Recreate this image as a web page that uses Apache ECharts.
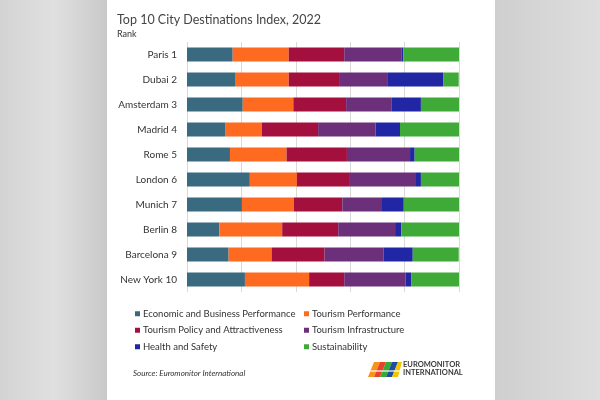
<!DOCTYPE html>
<html>
<head>
<meta charset="utf-8">
<script src="https://cdn.jsdelivr.net/npm/echarts@6/dist/echarts.min.js"></script>
<style>html,body{margin:0;padding:0;background:#d5d5d5;}#c{width:600px;height:400px;}</style>
</head>
<body>
<div id="c"></div>
<script>
var cities = ["Paris 1","Dubai 2","Amsterdam 3","Madrid 4","Rome 5","London 6","Munich 7","Berlin 8","Barcelona 9","New York 10"];
var economic = [16.8, 17.9, 20.5, 14.2, 15.8, 23.1, 20.2, 11.9, 15.3, 21.3];
var tourismPerf = [20.6, 19.5, 18.6, 13.3, 20.8, 17.3, 19.1, 23.1, 15.8, 23.6];
var policy = [20.4, 18.5, 19.4, 20.7, 22.2, 19.5, 17.8, 20.6, 19.5, 12.9];
var infra = [21.0, 17.7, 16.8, 21.1, 23.2, 24.3, 14.6, 20.9, 21.6, 22.5];
var health = [0.7, 20.7, 10.7, 9.0, 1.7, 1.8, 8.0, 2.3, 10.8, 2.1];
var sustain = [20.5, 5.6, 14.0, 21.7, 16.3, 14.0, 20.4, 21.2, 16.9, 17.7];
var seriesNames = ["Economic and Business Performance","Tourism Performance","Tourism Policy and Attractiveness","Tourism Infrastructure","Health and Safety","Sustainability"];
var seriesValues = [economic, tourismPerf, policy, infra, health, sustain];
var colors = ["#3a6a80","#ff6a21","#a3103d","#6c2f7a","#2026a4","#40aa38"];

var FONT = "Lato";
var chart = echarts.init(document.getElementById('c'), null, {renderer:'canvas'});
var series = seriesNames.map(function(n,i){
  return {name:n, type:'bar', stack:'all', data:seriesValues[i], barWidth:14,
    itemStyle:{color:colors[i]}, emphasis:{disabled:true}};
});
chart.setOption({
  animation:false,
  backgroundColor:'#d5d5d5',
  color:colors,
  graphic:[
    {type:'rect', z:-10, shape:{x:0,y:0,width:107,height:400}, style:{fill:new echarts.graphic.LinearGradient(0,0,1,0,[{offset:0,color:'#d3d3d3'},{offset:0.5,color:'#e0e0e0'},{offset:1,color:'#c9c9c9'}])}},
    {type:'rect', z:-10, shape:{x:495,y:0,width:105,height:400}, style:{fill:new echarts.graphic.LinearGradient(0,0,1,0,[{offset:0,color:'#cfcfcf'},{offset:1,color:'#dedede'}])}},
    {type:'rect', z:-5, shape:{x:107,y:0,width:388,height:400}, style:{fill:'#ffffff'}},
    {type:'text', left:117, top:13, style:{text:'Top 10 City Destinations Index, 2022', font:'12.5px '+FONT, fill:'#454545'}},
    {type:'text', left:117, top:30, style:{text:'Rank', font:'9px '+FONT, fill:'#333333'}},
    {type:'text', left:133, top:369, style:{text:'Source: Euromonitor International', font:'italic 8px '+FONT, fill:'#333333'}},
    {type:'text', left:403, top:361, style:{text:'EUROMONITOR\nINTERNATIONAL', font:'bold 7.5px '+FONT, fill:'#3a3a3a', lineHeight:7.5}},
    {type:'group', left:368, top:362, children:[
      {type:'polygon', shape:{points:[[0,15],[6,0],[12,0],[6,15]]}, style:{fill:'#f7941d'}},
      {type:'polygon', shape:{points:[[6,15],[12,0],[18,0],[12,15]]}, style:{fill:'#e8412c'}},
      {type:'polygon', shape:{points:[[12,15],[18,0],[24,0],[18,15]]}, style:{fill:'#39a935'}},
      {type:'polygon', shape:{points:[[18,15],[24,0],[30,0],[24,15]]}, style:{fill:'#1f4e9e'}},
      {type:'polygon', shape:{points:[[24,15],[30,0],[34,0],[30,15]]}, style:{fill:'#f5c400'}},
      {type:'polygon', shape:{points:[[3,8],[33,8],[32,10],[2,10]]}, style:{fill:'#ffffff', opacity:0.6}}
    ]}
  ],
  legend:[
    {orient:'vertical', left:130, top:303, itemWidth:5, itemHeight:5, itemGap:5, icon:'rect',
      data:[seriesNames[0], seriesNames[2], seriesNames[4]],
      textStyle:{fontFamily:FONT, fontSize:9.5, color:'#333333', lineHeight:11.5, padding:[0,0,0,-2]}},
    {orient:'vertical', left:299, top:303, itemWidth:5, itemHeight:5, itemGap:5, icon:'rect',
      data:[seriesNames[1], seriesNames[3], seriesNames[5]],
      textStyle:{fontFamily:FONT, fontSize:9.5, color:'#333333', lineHeight:11.5, padding:[0,0,0,-2]}}
  ],
  grid:{left:187, right:141, top:42, height:250, containLabel:false},
  xAxis:{type:'value', min:0, max:100, interval:20,
    axisLabel:{show:false}, axisTick:{show:false}, axisLine:{show:false},
    splitLine:{show:true, lineStyle:{color:'#d9d9d9', width:1}}},
  yAxis:{type:'category', data:cities, inverse:true,
    axisLine:{show:false}, axisTick:{show:false},
    axisLabel:{fontFamily:FONT, fontSize:10, color:'#333333', margin:10}},
  series:series
});
</script>
</body>
</html>
